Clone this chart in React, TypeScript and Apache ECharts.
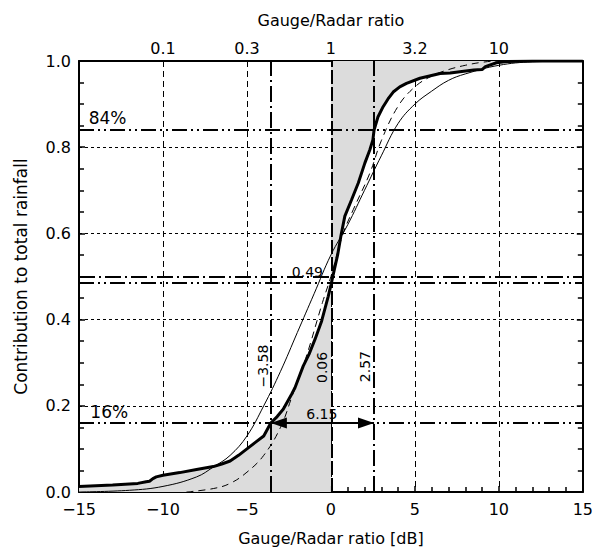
import React, { useEffect, useRef } from "react";
import * as echarts from "echarts";

// ---- data ----
const topTickValues = [-10, -5, 0, 5, 10];
const topTickLabels = ["0.1", "0.3", "1", "3.2", "10"];

// empirical contribution curve (thick)
const thickX = [-15, -13, -11.5, -11, -10.8, -10.6, -10.4, -10, -9, -8, -7, -6.5, -6, -5.5, -5, -4.5, -4, -3.58, -3.2, -2.84, -2.34, -2.14, -1.65, -1.3, -0.95, -0.55, -0.16, 0, 0.2, 0.4, 0.6, 0.83, 1.23, 1.63, 2.02, 2.32, 2.5, 2.57, 2.8, 3.11, 3.4, 3.71, 4.1, 4.5, 5.3, 6.5, 7.1, 8.5, 9.0, 9.2, 9.86, 10.5, 12, 15];
const thickY = [0.013, 0.016, 0.02, 0.024, 0.025, 0.031, 0.035, 0.039, 0.045, 0.052, 0.059, 0.065, 0.072, 0.085, 0.1, 0.115, 0.13, 0.16, 0.175, 0.192, 0.227, 0.242, 0.292, 0.32, 0.354, 0.397, 0.454, 0.48, 0.515, 0.55, 0.595, 0.64, 0.678, 0.717, 0.763, 0.794, 0.817, 0.84, 0.87, 0.894, 0.912, 0.928, 0.94, 0.948, 0.96, 0.971, 0.972, 0.979, 0.98, 0.987, 0.996, 0.999, 1.0, 1.0];

// thin fitted curve
const thinX = [-15, -12, -10, -8, -7, -6, -5, -4, -3, -2, -1, 0, 1, 2, 3, 4, 5, 6, 7, 8, 10, 12, 15];
const thinY = [0.0, 0.004, 0.013, 0.035, 0.058, 0.085, 0.13, 0.2, 0.28, 0.37, 0.46, 0.55, 0.62, 0.7, 0.78, 0.855, 0.9, 0.93, 0.955, 0.97, 0.99, 0.998, 1.0];

// dashed fitted curve
const dashX = [-8.6, -7, -6, -5, -4, -3, -2.34, -1.5, -0.5, 0, 0.73, 1.33, 2.32, 3, 4, 5, 6, 7, 8, 9, 10, 15];
const dashY = [0.0, 0.008, 0.02, 0.046, 0.085, 0.15, 0.219, 0.31, 0.44, 0.5, 0.6, 0.655, 0.74, 0.815, 0.895, 0.94, 0.965, 0.98, 0.99, 0.997, 1.0, 1.0];

const quantileX = [-3.58, 0.06, 2.57];
const quantileLabels = ["\u22123.58", "0.06", "2.57"];
const percentY = [0.16, 0.84];
const percentLabels = ["16%", "84%"];
const halfY = [0.5, 0.486];
const halfLabel = "0.49";
const spreadLabel = "6.15";

const FONT = "DejaVu Sans";

export default function App() {
  const ref = useRef<HTMLDivElement>(null);
  useEffect(() => {
    if (!ref.current) return;
    const chart = echarts.init(ref.current, null, { renderer: "svg" });

    const thickPairs = thickX.map((x, i) => [x, thickY[i]]);
    const leftPairs = thickPairs.filter((p) => p[0] <= 0);
    const rightPairs = thickPairs.filter((p) => p[0] >= 0);
    const thinPairs = thinX.map((x, i) => [x, thinY[i]]);
    const dashPairs = dashX.map((x, i) => [x, dashY[i]]);

    const dashDot = [16, 4, 2, 4];
    const dashDotDot = [15, 4, 2, 4, 2, 4];
    const refLineData: any[] = [];
    quantileX.forEach((x, i) => {
      refLineData.push([
        { coord: [x, 0], lineStyle: { color: "#000", width: 2, type: i === 1 ? [14, 3] : dashDot } },
        { coord: [x, 1] },
      ]);
    });
    percentY.forEach((y) => {
      refLineData.push([
        { coord: [-15, y], lineStyle: { color: "#000", width: 2, type: dashDotDot } },
        { coord: [15, y] },
      ]);
    });
    halfY.forEach((y, i) => {
      refLineData.push([
        { coord: [-15, y], lineStyle: { color: "#000", width: 2, type: i === 0 ? dashDot : dashDotDot } },
        { coord: [15, y] },
      ]);
    });

    const lab = (formatter: string, extra: any = {}) => ({
      formatter,
      color: "#000",
      textBorderWidth: 0,
      fontFamily: FONT,
      fontSize: 14,
      ...extra,
    });
    const annotations = [
      { value: [-13.3, 0.868], label: lab(percentLabels[1], { fontSize: 17 }) },
      { value: [-13.2, 0.185], label: lab(percentLabels[0], { fontSize: 17 }) },
      { value: [-1.4, 0.51], label: lab(halfLabel) },
      { value: [-0.54, 0.18], label: lab(spreadLabel) },
      { value: [-4.07, 0.292], label: lab(quantileLabels[0], { rotate: 90 }) },
      { value: [-0.55, 0.289], label: lab(quantileLabels[1], { rotate: 90 }) },
      { value: [2.02, 0.291], label: lab(quantileLabels[2], { rotate: 90 }) },
    ];

    const axisFont = { color: "#000", fontFamily: FONT, fontSize: 16 };

    chart.setOption({
      animation: false,
      backgroundColor: "#fff",
      grid: { left: 79, right: 13, top: 61, bottom: 58, containLabel: false },
      xAxis: [
        {
          type: "value",
          min: -15,
          max: 15,
          interval: 5,
          position: "bottom",
          axisLine: { show: true, onZero: false, lineStyle: { color: "#000", width: 2 } },
          axisTick: { show: true, inside: true, length: 6, lineStyle: { color: "#000", width: 1.5 } },
          minorTick: { show: true, splitNumber: 5, length: 5, lineStyle: { color: "#000", width: 1.5 } },
          axisLabel: { ...axisFont, margin: 9, formatter: (v: number) => String(v).replace("-", "\u2212") },
          splitLine: { show: true, lineStyle: { color: "#000", width: 1, type: [6, 4] } },
          name: "Gauge/Radar ratio [dB]",
          nameLocation: "middle",
          nameGap: 38,
          nameTextStyle: { ...axisFont },
        },
        {
          type: "value",
          min: -15,
          max: 15,
          interval: 5,
          position: "top",
          axisLine: { show: true, onZero: false, lineStyle: { color: "#000", width: 2 } },
          axisTick: { show: false },
          axisLabel: {
            ...axisFont,
            margin: 5,
            formatter: (v: number) => {
              const i = topTickValues.indexOf(v);
              return i >= 0 ? topTickLabels[i] : "";
            },
          },
          splitLine: { show: false },
          name: "Gauge/Radar ratio",
          nameLocation: "middle",
          nameGap: 33,
          nameTextStyle: { ...axisFont },
        },
      ],
      yAxis: [
        {
          type: "value",
          min: 0,
          max: 1,
          interval: 0.2,
          position: "left",
          axisLine: { show: true, onZero: false, lineStyle: { color: "#000", width: 2 } },
          axisTick: { show: true, inside: true, length: 6, lineStyle: { color: "#000", width: 1.5 } },
          minorTick: { show: true, splitNumber: 4, length: 5, lineStyle: { color: "#000", width: 1.5 } },
          axisLabel: { ...axisFont, margin: 8, formatter: (v: number) => v.toFixed(1) },
          splitLine: { show: true, lineStyle: { color: "#000", width: 1, type: [3, 3] } },
          name: "Contribution to total rainfall",
          nameLocation: "middle",
          nameGap: 50,
          nameTextStyle: { ...axisFont, fontSize: 17 },
        },
        {
          type: "value",
          min: 0,
          max: 1,
          interval: 0.2,
          position: "right",
          axisLine: { show: true, onZero: false, lineStyle: { color: "#000", width: 2 } },
          axisTick: { show: true, inside: true, length: 6, lineStyle: { color: "#000", width: 1.5 } },
          minorTick: { show: true, splitNumber: 4, length: 5, lineStyle: { color: "#000", width: 1.5 } },
          axisLabel: { show: false },
          splitLine: { show: false },
        },
      ],
      series: [
        {
          type: "line",
          name: "shadeLeft",
          data: leftPairs,
          symbol: "none",
          silent: true,
          lineStyle: { width: 0 },
          areaStyle: { color: "#dcdcdc", opacity: 1, origin: "start" },
          z: 1,
        },
        {
          type: "line",
          name: "shadeRight",
          data: rightPairs,
          symbol: "none",
          silent: true,
          lineStyle: { width: 0 },
          areaStyle: { color: "#dcdcdc", opacity: 1, origin: "end" },
          z: 1,
        },
        {
          type: "line",
          name: "thin",
          data: thinPairs,
          symbol: "none",
          smooth: 0.4,
          silent: true,
          lineStyle: { color: "#000", width: 1 },
          z: 3,
        },
        {
          type: "line",
          name: "dashed",
          data: dashPairs,
          symbol: "none",
          smooth: 0.4,
          silent: true,
          lineStyle: { color: "#000", width: 1, type: [7, 5] },
          z: 3,
        },
        {
          type: "line",
          name: "thick",
          data: thickPairs,
          symbol: "none",
          silent: true,
          lineStyle: { color: "#000", width: 3 },
          z: 4,
        },
        {
          type: "line",
          name: "refs",
          data: [],
          symbol: "none",
          silent: true,
          z: 5,
          markLine: {
            silent: true,
            symbol: ["none", "none"],
            label: { show: false },
            animation: false,
            data: refLineData,
          },
        },
        {
          type: "line",
          name: "spread",
          data: [
            [quantileX[0], percentY[0]],
            [quantileX[2], percentY[0]],
          ],
          symbol: "none",
          silent: true,
          lineStyle: { color: "#000", width: 2 },
          z: 6,
          markLine: {
            silent: true,
            symbol: ["triangle", "triangle"],
            symbolSize: [11, 16],
            label: { show: false },
            animation: false,
            lineStyle: { color: "#000", width: 0.01, type: "solid" },
            itemStyle: { color: "#000" },
            data: [
              [
                { coord: [quantileX[0] + 0.48, percentY[0]] },
                { coord: [quantileX[2] - 0.48, percentY[0]] },
              ],
            ],
          },
        },
        {
          type: "scatter",
          name: "labels",
          symbolSize: 0,
          silent: true,
          z: 7,
          itemStyle: { color: "#000", opacity: 1 },
          label: { show: true, position: "inside", color: "#000", textBorderWidth: 0, fontFamily: FONT, fontSize: 14 },
          data: annotations,
        },
      ],
    });
    return () => chart.dispose();
  }, []);
  return (
    <div
      ref={ref}
      style={{ position: "fixed", left: 0, top: 0, width: 596, height: 551, background: "#fff" }}
    />
  );
}
